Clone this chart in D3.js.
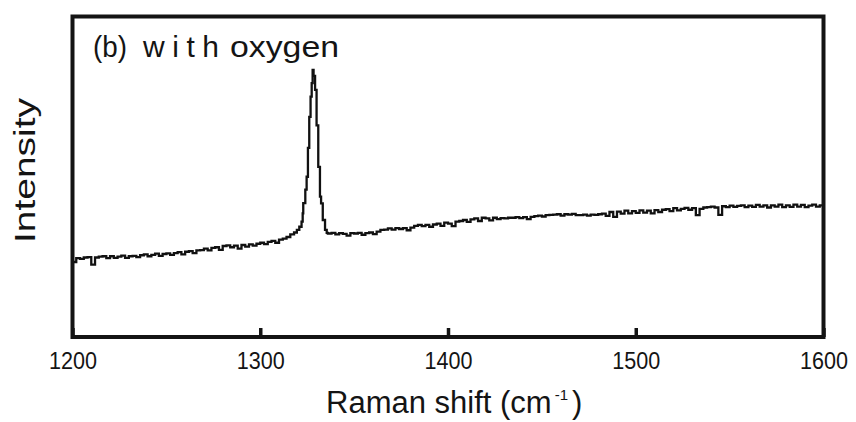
<!DOCTYPE html>
<html>
<head>
<meta charset="utf-8">
<script src="https://cdn.jsdelivr.net/npm/d3@7"></script>
<style>
  html, body { margin: 0; padding: 0; background: #fff; }
  svg { display: block; }
  text { font-family: "Liberation Sans", Arial, Helvetica, sans-serif; fill: #141414; }
</style>
</head>
<body>
<svg id="chart" width="856" height="422"></svg>
<script>
// Raman spectrum, sample (b) grown with oxygen (intensity in arbitrary units)
const ramanShift = [
  1200, 1202, 1204, 1206, 1208, 1210, 1212, 1214, 1216, 1218,
  1220, 1222, 1224, 1226, 1228, 1230, 1232, 1234, 1236, 1238,
  1240, 1242, 1244, 1246, 1248, 1250, 1252, 1254, 1256, 1258,
  1260, 1262, 1264, 1266, 1268, 1270, 1272, 1274, 1276, 1278,
  1280, 1282, 1284, 1286, 1288, 1290, 1292, 1294, 1296, 1298,
  1300, 1302, 1304, 1306, 1308, 1310, 1312, 1314, 1316, 1318,
  1319.5, 1320.8, 1322.0, 1322.6, 1322.9, 1324.0, 1324.7, 1325.4, 1326.1, 1326.8,
  1327.4, 1327.9, 1328.4, 1329.2, 1330.0, 1330.9, 1331.8, 1332.4, 1333.3, 1334.5,
  1335.4, 1336, 1338, 1340, 1342, 1344, 1346, 1348, 1350, 1352,
  1354, 1356, 1358, 1360, 1362, 1364, 1366, 1368, 1370, 1372,
  1374, 1376, 1378, 1380, 1382, 1384, 1386, 1388, 1390, 1392,
  1394, 1396, 1398, 1400, 1402, 1404, 1406, 1408, 1410, 1412,
  1414, 1416, 1418, 1420, 1422, 1424, 1426, 1428, 1430, 1432,
  1434, 1436, 1438, 1440, 1442, 1444, 1446, 1448, 1450, 1452,
  1454, 1456, 1458, 1460, 1462, 1464, 1466, 1468, 1470, 1472,
  1474, 1476, 1478, 1480, 1482, 1484, 1486, 1488, 1490, 1492,
  1494, 1496, 1498, 1500, 1502, 1504, 1506, 1508, 1510, 1512,
  1514, 1516, 1518, 1520, 1522, 1524, 1526, 1528, 1530, 1532,
  1534, 1536, 1538, 1540, 1542, 1544, 1546, 1548, 1550, 1552,
  1554, 1556, 1558, 1560, 1562, 1564, 1566, 1568, 1570, 1572,
  1574, 1576, 1578, 1580, 1582, 1584, 1586, 1588, 1590, 1592,
  1594, 1596, 1598, 1600
];

const intensity = [
  23.4, 24.6, 24.4, 24.8, 24.9, 22.6, 24.8, 25.1, 25.2, 24.6,
  25.2, 24.7, 25.1, 25.4, 24.7, 25.2, 25.3, 24.9, 25.5, 25.8,
  25.2, 25.6, 26.0, 25.3, 25.9, 26.1, 25.6, 26.2, 26.5, 25.8,
  26.6, 26.8, 26.2, 27.0, 27.1, 27.6, 27.0, 27.8, 28.0, 27.2,
  28.4, 28.6, 28.0, 28.5, 27.6, 28.7, 28.2, 28.9, 28.5, 29.1,
  29.4, 29.0, 29.7, 30.0, 29.4, 30.4, 30.7, 31.2, 32.0, 32.6,
  33.4, 34.4, 36.0, 38.6, 41.8, 46.0, 50.0, 59.0, 68.7, 75.0,
  79.2, 83.3, 81.5, 77.1, 66.0, 53.1, 43.8, 41.7, 36.5, 33.4,
  32.5, 32.3, 32.5, 32.0, 32.4, 32.2, 31.6, 32.4, 32.3, 32.5,
  31.9, 32.4, 32.6, 32.1, 32.9, 33.4, 33.5, 33.9, 33.5, 34.0,
  33.7, 34.0, 33.3, 34.1, 34.7, 35.0, 34.6, 35.0, 34.4, 35.1,
  35.4, 34.7, 35.7, 35.4, 34.6, 36.0, 36.2, 36.5, 35.9, 36.7,
  37.0, 36.2, 37.2, 37.0, 36.4, 37.2, 36.8, 37.1, 37.0, 37.2,
  37.2, 37.4, 37.1, 37.4, 36.8, 37.5, 37.7, 37.9, 37.6, 38.0,
  38.1, 38.2, 38.3, 37.9, 38.3, 38.2, 38.4, 38.0, 38.0, 38.2,
  37.9, 38.2, 38.1, 38.3, 38.5, 37.8, 39.0, 37.5, 39.1, 38.5,
  39.4, 38.6, 39.3, 38.7, 39.5, 38.8, 39.4, 38.6, 39.6, 39.0,
  39.7, 39.9, 39.3, 40.2, 39.5, 40.0, 40.3, 39.7, 40.2, 38.0,
  40.0, 40.4, 40.5, 40.7, 40.4, 38.1, 40.8, 40.5, 41.0, 40.6,
  40.9, 41.1, 40.5, 41.0, 40.6, 41.2, 40.7, 41.1, 40.4, 41.1,
  40.7, 41.3, 40.5, 41.1, 40.6, 41.3, 40.7, 41.2, 40.5, 41.0,
  41.3, 40.7, 41.1, 41.0
];

const xTicks = [1200, 1300, 1400, 1500, 1600];
const xDomain = [1200, 1600];
const yDomain = [0, 100];

const svg = d3.select("#chart");
const frame = { left: 72.5, right: 823.5, top: 16.5, bottom: 337 };

const x = d3.scaleLinear().domain(xDomain).range([frame.left, frame.right]);
const y = d3.scaleLinear().domain(yDomain).range([frame.bottom, frame.top]);

// spectrum trace
const series = ramanShift.map((s, i) => [s, intensity[i]]);
const line = d3.line()
  .x(d => x(d[0]))
  .y(d => y(d[1]))
  .curve(d3.curveStepAfter);

svg.append("path")
  .datum(series)
  .attr("d", line)
  .attr("fill", "none")
  .attr("stroke", "#111")
  .attr("stroke-width", 2.3)
  .attr("stroke-linejoin", "miter");

// inward ticks on the bottom axis
const xAxis = d3.axisBottom(x)
  .tickValues(xTicks)
  .tickSize(-9)
  .tickSizeOuter(0)
  .tickPadding(15)
  .tickFormat(d3.format("d"));

const gx = svg.append("g")
  .attr("transform", `translate(0,${frame.bottom})`)
  .call(xAxis);
gx.select(".domain").remove();
gx.selectAll(".tick line")
  .attr("stroke", "#141414")
  .attr("stroke-width", 3.5);
gx.selectAll(".tick text")
  .attr("font-size", 23.5)
  .attr("font-family", "'Liberation Sans', Arial, sans-serif")
  .attr("fill", "#141414")
  .attr("dy", "0.71em")
  .attr("textLength", 48)
  .attr("lengthAdjust", "spacingAndGlyphs");

// plot frame
svg.append("rect")
  .attr("x", frame.left)
  .attr("y", frame.top)
  .attr("width", frame.right - frame.left)
  .attr("height", frame.bottom - frame.top)
  .attr("fill", "none")
  .attr("stroke", "#141414")
  .attr("stroke-width", 4);

// panel label
const title = svg.append("text")
  .attr("y", 57)
  .attr("font-size", 30);
title.append("tspan").attr("x", 93).attr("textLength", 34)
  .attr("lengthAdjust", "spacingAndGlyphs").text("(b)");
title.append("tspan").attr("x", 143).attr("textLength", 76)
  .attr("lengthAdjust", "spacing").text("with");
title.append("tspan").attr("x", 230).attr("textLength", 109)
  .attr("lengthAdjust", "spacingAndGlyphs").text("oxygen");

// x-axis title with superscript, laid out in flow
const xt = svg.append("text")
  .attr("x", 326)
  .attr("y", 413)
  .attr("font-size", 31);
xt.append("tspan").text("Raman shift (cm");
xt.append("tspan").attr("dx", 3).attr("dy", -13).attr("font-size", 15).text("-1");
xt.append("tspan").attr("dx", 4).attr("dy", 13).text(")");

// y-axis title
svg.append("text")
  .attr("transform", "translate(35,170.5) rotate(-90)")
  .attr("text-anchor", "middle")
  .attr("font-size", 30)
  .attr("textLength", 145)
  .attr("lengthAdjust", "spacingAndGlyphs")
  .text("Intensity");
</script>
</body>
</html>
